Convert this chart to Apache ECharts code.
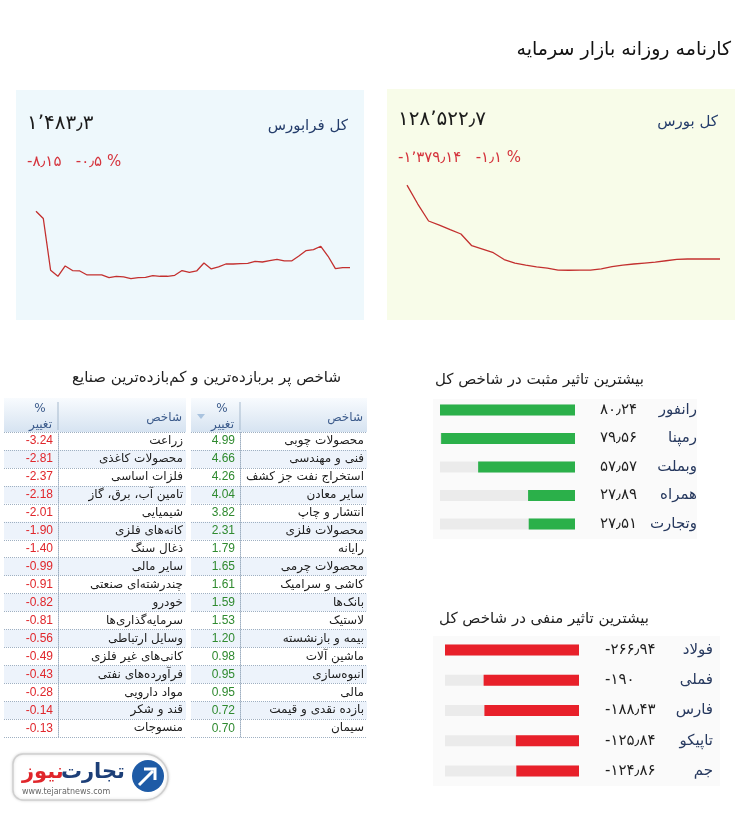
<!DOCTYPE html>
<html><head><meta charset="utf-8">
<script src="https://cdn.jsdelivr.net/npm/echarts@6/dist/echarts.min.js"></script>
<style>html,body{margin:0;padding:0;background:#fff}#c{width:754px;height:814px}</style>
</head><body><div id="c"></div>
<script>
// ---------- data ----------
const title = 'کارنامه روزانه بازار سرمایه';

const bourseLabel = 'کل بورس';
const bourseIndex = 128522.7;
const bourseChange = -1379.14;
const bourseChangePct = -1.1;
const bourseLine = [129899, 129546, 129230, 129155, 129068, 128988, 128770, 128709, 128640, 128513,
  128448, 128411, 128378, 128355, 128318, 128314, 128318, 128318, 128340, 128380,
  128411, 128430, 128448, 128467, 128491, 128515, 128523, 128523, 128523, 128523];

const faraLabel = 'کل فرابورس';
const faraIndex = 1483.3;
const faraChange = -8.15;
const faraChangePct = -0.5;
const faraLine = [1491.46, 1490.41, 1482.91, 1482.04, 1483.53, 1482.87, 1482.81, 1482.23, 1482.23, 1482.23,
  1481.85, 1482.04, 1481.94, 1481.70, 1481.85, 1481.89, 1482.14, 1482.04, 1482.04, 1482.18,
  1482.87, 1482.62, 1482.81, 1483.97, 1483.10, 1483.39, 1483.82, 1483.82, 1483.88, 1483.92,
  1484.21, 1484.11, 1484.32, 1484.50, 1484.26, 1484.26, 1484.98, 1485.77, 1485.91, 1486.39,
  1484.94, 1483.15, 1483.30, 1483.30];

const posTitle = 'بیشترین تاثیر مثبت در شاخص کل';
const posNames = ['رانفور', 'رمپنا', 'وبملت', 'همراه', 'وتجارت'];
const posValues = [80.24, 79.56, 57.57, 27.89, 27.51];

const negTitle = 'بیشترین تاثیر منفی در شاخص کل';
const negNames = ['فولاد', 'فملی', 'فارس', 'تاپیکو', 'جم'];
const negValues = [-266.94, -190, -188.43, -125.84, -124.86];

const tableTitle = 'شاخص پر بربازده‌ترین و کم‌بازده‌ترین صنایع';
const colName = 'شاخص';
const colPct = 'تغییر';
const gainNames = ['محصولات چوبی', 'فنی و مهندسی', 'استخراج نفت جز کشف', 'سایر معادن', 'انتشار و چاپ',
  'محصولات فلزی', 'رایانه', 'محصولات چرمی', 'کاشی و سرامیک', 'بانک‌ها', 'لاستیک', 'بیمه و بازنشسته',
  'ماشین آلات', 'انبوه‌سازی', 'مالی', 'بازده نقدی و قیمت', 'سیمان'];
const gainValues = [4.99, 4.66, 4.26, 4.04, 3.82, 2.31, 1.79, 1.65, 1.61, 1.59, 1.53, 1.20, 0.98, 0.95, 0.95, 0.72, 0.70];
const lossNames = ['زراعت', 'محصولات کاغذی', 'فلزات اساسی', 'تامین آب، برق، گاز', 'شیمیایی', 'کانه‌های فلزی',
  'ذغال سنگ', 'سایر مالی', 'چندرشته‌ای صنعتی', 'خودرو', 'سرمایه‌گذاری‌ها', 'وسایل ارتباطی',
  'کانی‌های غیر فلزی', 'فرآورده‌های نفتی', 'مواد دارویی', 'قند و شکر', 'منسوجات'];
const lossValues = [-3.24, -2.81, -2.37, -2.18, -2.01, -1.90, -1.40, -0.99, -0.91, -0.82, -0.81, -0.56, -0.49, -0.43, -0.28, -0.14, -0.13];

// ---------- helpers ----------
const FA = '"DejaVu Sans"';
function fa(s) {
  return String(s).replace(/\d/g, d => '۰۱۲۳۴۵۶۷۸۹'[+d]).replace(/\./g, '٫').replace(/,/g, '٬');
}
function fmt(n) { return fa(n.toLocaleString('en-US', { maximumFractionDigits: 2 })); }
function idx(arr) { return arr.map((_, i) => i); }

function txt(x, y, text, size, fill, align, extra) {
  return Object.assign({
    type: 'text', x: x, y: y, silent: true, z: 10,
    style: { text: text, fontSize: size, fontFamily: FA, fill: fill, align: align || 'left', verticalAlign: 'middle' }
  }, extra || {});
}

function tableHeader(x0, w, divX, withArrow) {
  const els = [
    { type: 'rect', shape: { x: x0, y: 398, width: w, height: 34 }, silent: true, z: 1,
      style: { fill: new echarts.graphic.LinearGradient(0, 0, 0, 1, [
        { offset: 0, color: '#f8fbfe' }, { offset: 1, color: '#d6e3f1' }]) } },
    { type: 'line', shape: { x1: divX, y1: 402, x2: divX, y2: 430 }, silent: true, z: 2,
      style: { stroke: '#a6b9cd', lineWidth: 1 } },
    txt(x0 + w - 4, 418, colName, 12, '#3d5c8c', 'right'),
    txt(divX - 18, 409, '%', 12, '#3d5c8c', 'center'),
    txt(divX - 6, 425, colPct, 12, '#3d5c8c', 'right')
  ];
  if (withArrow) {
    els.push({ type: 'polygon', shape: { points: [[x0 + 6, 414], [x0 + 14, 414], [x0 + 10, 419]] }, silent: true, z: 2,
      style: { fill: '#a9c3df' } });
  }
  return els;
}

const graphics = [
  // panels
  { type: 'rect', shape: { x: 16, y: 90, width: 348, height: 230 }, style: { fill: '#eef8fc' }, silent: true, z: 0 },
  { type: 'rect', shape: { x: 387, y: 89, width: 348, height: 231 }, style: { fill: '#f8fce9' }, silent: true, z: 0 },
  { type: 'rect', shape: { x: 433, y: 399, width: 264, height: 140 }, style: { fill: '#fafafa' }, silent: true, z: 0 },
  { type: 'rect', shape: { x: 433, y: 636, width: 287, height: 150 }, style: { fill: '#fafafa' }, silent: true, z: 0 },
  // titles
  txt(731, 50, title, 19, '#111', 'right'),
  txt(718, 122, bourseLabel, 15, '#243d6b', 'right'),
  txt(398, 120, fmt(bourseIndex), 20, '#1b1b1b', 'left'),
  txt(398, 158, fmt(bourseChange) + '   ' + fmt(bourseChangePct) + ' %', 15, '#d5343d', 'left'),
  txt(348, 126, faraLabel, 15, '#243d6b', 'right'),
  txt(27, 124, fmt(faraIndex), 20, '#1b1b1b', 'left'),
  txt(27, 162, fmt(faraChange) + '   ' + fmt(faraChangePct) + ' %', 15, '#d5343d', 'left'),
  txt(644, 380, posTitle, 15, '#222', 'right'),
  txt(649, 619, negTitle, 15, '#222', 'right'),
  txt(341, 378, tableTitle, 15, '#222', 'right')
].concat(tableHeader(191, 176, 240, true), tableHeader(4, 182, 58, false));

// logo
graphics.push({
  type: 'group', x: 13, y: 754, silent: true, z: 5,
  children: [
    { type: 'rect', shape: { x: 0, y: 0, width: 155, height: 46, r: [10, 23, 23, 10] },
      style: { fill: '#ffffff', stroke: '#cfcfcf', lineWidth: 1.5, shadowBlur: 3, shadowColor: 'rgba(0,0,0,0.15)' } },
    { type: 'text', x: 112, y: 19, style: { text: 'تجارت', fontSize: 21, fontWeight: 'bold', fontFamily: FA, fill: '#1d3f78', align: 'right', verticalAlign: 'middle' } },
    { type: 'text', x: 9, y: 19, style: { text: 'نیوز', fontSize: 21, fontWeight: 'bold', fontFamily: FA, fill: '#e0262b', align: 'left', verticalAlign: 'middle' } },
    { type: 'text', x: 9, y: 38, style: { text: 'www.tejaratnews.com', fontSize: 8, fontFamily: FA, fill: '#666', align: 'left', verticalAlign: 'middle' } },
    { type: 'circle', shape: { cx: 135, cy: 22, r: 16 }, style: { fill: '#1e5ba6' } },
    { type: 'polyline', shape: { points: [[126, 31], [140, 17]] }, style: { stroke: '#fff', lineWidth: 3 } },
    { type: 'polyline', shape: { points: [[131, 15], [142, 15], [142, 26]] }, style: { stroke: '#fff', lineWidth: 3, fill: null } }
  ]
});

// ---------- option ----------
const hiddenVal = (gi, extra) => Object.assign({ type: 'value', gridIndex: gi, show: false }, extra || {});
const noLine = { show: false };

const tableNameAxis = (gi, names) => ({
  type: 'category', gridIndex: gi, data: names, inverse: true, position: 'right',
  axisLine: noLine, axisTick: noLine,
  axisLabel: { inside: true, margin: 3, interval: 0, fontSize: 12, fontFamily: FA, color: '#1c1c1c' },
  splitLine: { show: true, interval: 0, lineStyle: { type: 'dotted', color: '#9fb0c2', width: 1 } },
  splitArea: { show: true, interval: 0, areaStyle: { color: ['#ffffff', '#edf3fb'] } }
});
const tableValAxis = (gi, vals, offset, color) => ({
  type: 'category', gridIndex: gi, data: idx(vals), inverse: true, position: 'left', offset: offset,
  axisLine: { show: true, lineStyle: { type: 'dotted', color: '#9fb0c2', width: 1 } },
  axisTick: noLine, splitLine: noLine,
  axisLabel: { margin: 5, interval: 0, fontSize: 12, fontFamily: '"Liberation Sans", Arial', color: color,
    formatter: (v, i) => vals[i].toFixed(2) }
});

const option = {
  animation: false,
  backgroundColor: '#ffffff',
  graphic: graphics,
  grid: [
    { left: 407, right: 34, top: 185, bottom: 543, outerBoundsMode: 'none' },   // bourse line
    { left: 36, right: 404, top: 211, bottom: 534, outerBoundsMode: 'none' },   // farabourse line
    { left: 440, right: 179, top: 395.75, bottom: 275.75, outerBoundsMode: 'none' }, // positive bars
    { left: 445, right: 175, top: 634.9, bottom: 27.9, outerBoundsMode: 'none' },   // negative bars
    { left: 191, right: 387, top: 432, bottom: 76.7, outerBoundsMode: 'none' },   // gain table
    { left: 4, right: 568, top: 432, bottom: 76.7, outerBoundsMode: 'none' }      // loss table
  ],
  xAxis: [
    { type: 'category', gridIndex: 0, data: idx(bourseLine), boundaryGap: false, show: false },
    { type: 'category', gridIndex: 1, data: idx(faraLine), boundaryGap: false, show: false },
    hiddenVal(2, { min: 0, max: Math.max(...posValues), inverse: true }),
    hiddenVal(3, { min: Math.min(...negValues), max: 0 }),
    hiddenVal(4, { min: 0, max: 1 }),
    hiddenVal(5, { min: 0, max: 1 })
  ],
  yAxis: [
    hiddenVal(0, { min: 128300, max: 129900, scale: true }),
    hiddenVal(1, { min: 1481.5, max: 1491.5, scale: true }),
    { type: 'category', gridIndex: 2, data: posNames, inverse: true, position: 'right',
      axisLine: noLine, axisTick: noLine,
      axisLabel: { align: 'right', margin: 122, fontSize: 15, fontFamily: FA, color: '#27395f' } },
    { type: 'category', gridIndex: 2, data: idx(posValues), inverse: true, position: 'right',
      axisLine: noLine, axisTick: noLine,
      axisLabel: { align: 'left', margin: 25, fontSize: 15, fontFamily: FA, color: '#1f1f1f',
        formatter: (v, i) => fmt(posValues[i]) } },
    { type: 'category', gridIndex: 3, data: negNames, inverse: true, position: 'right',
      axisLine: noLine, axisTick: noLine,
      axisLabel: { align: 'right', margin: 134, fontSize: 15, fontFamily: FA, color: '#27395f' } },
    { type: 'category', gridIndex: 3, data: idx(negValues), inverse: true, position: 'right',
      axisLine: noLine, axisTick: noLine,
      axisLabel: { align: 'left', margin: 26, fontSize: 15, fontFamily: FA, color: '#1f1f1f',
        formatter: (v, i) => fmt(negValues[i]) } },
    tableNameAxis(4, gainNames),
    tableValAxis(4, gainValues, -49, '#2f8a2f'),
    tableNameAxis(5, lossNames),
    tableValAxis(5, lossValues, -54, '#e0262b')
  ],
  series: [
    { type: 'line', xAxisIndex: 0, yAxisIndex: 0, data: bourseLine, symbol: 'none', silent: true,
      lineStyle: { color: '#c3302f', width: 1.3 } },
    { type: 'line', xAxisIndex: 1, yAxisIndex: 1, data: faraLine, symbol: 'none', silent: true,
      lineStyle: { color: '#c3302f', width: 1.3 } },
    { type: 'bar', xAxisIndex: 2, yAxisIndex: 2, data: posValues, barWidth: 11, silent: true,
      itemStyle: { color: '#2bb04a' }, showBackground: true, backgroundStyle: { color: '#ebebeb' } },
    { type: 'bar', xAxisIndex: 3, yAxisIndex: 4, data: negValues, barWidth: 11, silent: true,
      itemStyle: { color: '#e8202a' }, showBackground: true, backgroundStyle: { color: '#ebebeb' } }
  ]
};

const chart = echarts.init(document.getElementById('c'), null, { renderer: 'canvas' });
chart.setOption(option);
</script></body></html>
